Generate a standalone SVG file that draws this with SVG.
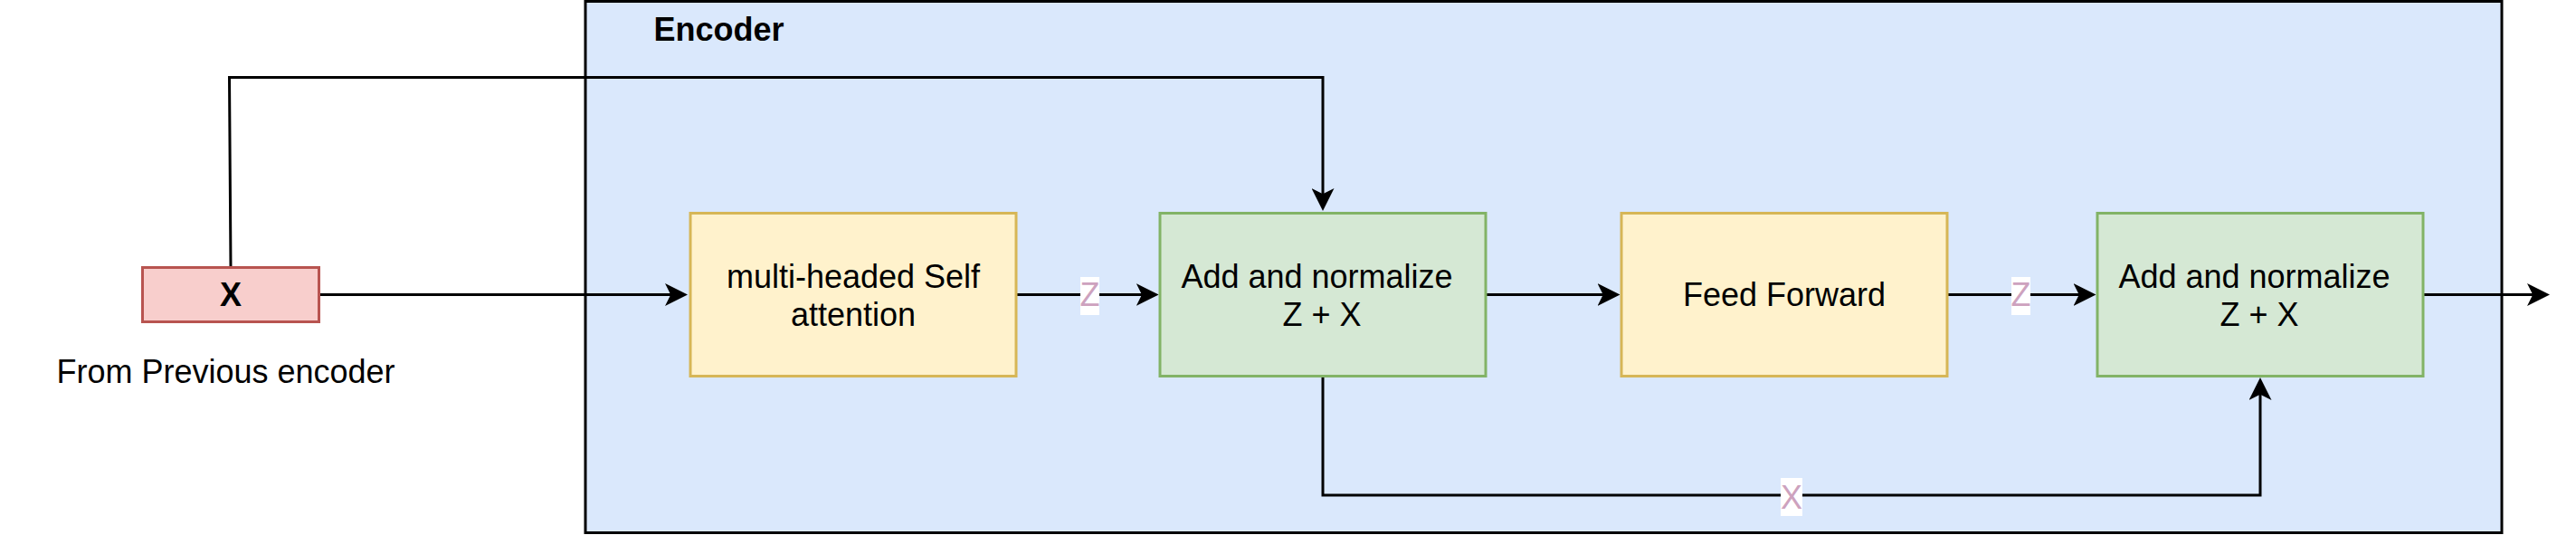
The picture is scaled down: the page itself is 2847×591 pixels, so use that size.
<svg xmlns="http://www.w3.org/2000/svg" width="2847" height="591" viewBox="0 0 2847 591">
  <style>
    text { font-family: "Liberation Sans", Arial, Helvetica, sans-serif; font-size: 36px; fill: #000; }
    .c { text-anchor: middle; }
    .b { font-weight: bold; }
    .lbl { fill: #CDA2BE; text-anchor: middle; }
    .lblbg { fill: #ffffff; stroke: none; }
    .yellow { fill: #fff2cc; stroke: #d6b656; stroke-width: 3; }
    .green { fill: #d5e8d4; stroke: #82b366; stroke-width: 3; }
    .red { fill: #f8cecc; stroke: #b85450; stroke-width: 3; }
    .edge { fill: none; stroke: #000; stroke-width: 3; marker-end: url(#arrow); }
  </style>
  <defs>
    <marker id="arrow" viewBox="0 0 25 25" refX="15" refY="12.5" markerWidth="25" markerHeight="25" markerUnits="userSpaceOnUse" orient="auto">
      <path d="M25 12.5 L0 0 L6.25 12.5 L0 25 Z" fill="#000"/>
    </marker>
  </defs>

  <g id="encoder">
    <rect x="647" y="1.5" width="2118" height="587" fill="#dae8fc" stroke="#000" stroke-width="3"/>
    <text x="722.5" y="45" class="b">Encoder</text>
  </g>

  <g id="connectors">
    <path class="edge" d="M352.5 325.5 L750 325.5"/>
    <path class="edge" d="M255 295 L253.5 85.5 L1462 85.5 L1462 223"/>
    <path class="edge" d="M1124 325.5 L1270.7 325.5"/>
    <path class="edge" d="M1642 325.5 L1780.5 325.5"/>
    <path class="edge" d="M2152 325.5 L2306.5 325.5"/>
    <path class="edge" d="M2678 325.5 L2808 325.5"/>
    <path class="edge" d="M1462 415.5 L1462 547 L2498 547 L2498 427"/>
    <g id="label-z1">
      <rect class="lblbg" x="1194" y="306" width="21" height="42"/>
      <text class="lbl" x="1204.5" y="337.5">Z</text>
    </g>
    <g id="label-z2">
      <rect class="lblbg" x="2223" y="306" width="21" height="42"/>
      <text class="lbl" x="2233.5" y="337.5">Z</text>
    </g>
    <g id="label-x">
      <rect class="lblbg" x="1968" y="528" width="24" height="42"/>
      <text class="lbl" x="1980" y="562">X</text>
    </g>
  </g>

  <g id="x-input">
    <rect class="red" x="157.5" y="295.5" width="195" height="60"/>
    <text class="c b" x="255" y="338">X</text>
  </g>

  <g id="from-previous">
    <text class="c" x="249.5" y="423">From Previous encoder</text>
  </g>

  <g id="self-attention">
    <rect class="yellow" x="763" y="235.5" width="360" height="180"/>
    <text class="c" x="943" y="317.5">multi-headed Self</text>
    <text class="c" x="943" y="360">attention</text>
  </g>

  <g id="add-norm-1">
    <rect class="green" x="1282" y="235.5" width="360" height="180"/>
    <text class="c" x="1455.5" y="317.5">Add and normalize</text>
    <text class="c" x="1461" y="360">Z + X</text>
  </g>

  <g id="feed-forward">
    <rect class="yellow" x="1792" y="235.5" width="360" height="180"/>
    <text class="c" x="1972" y="338">Feed Forward</text>
  </g>

  <g id="add-norm-2">
    <rect class="green" x="2318" y="235.5" width="360" height="180"/>
    <text class="c" x="2491.5" y="317.5">Add and normalize</text>
    <text class="c" x="2497" y="360">Z + X</text>
  </g>
</svg>
